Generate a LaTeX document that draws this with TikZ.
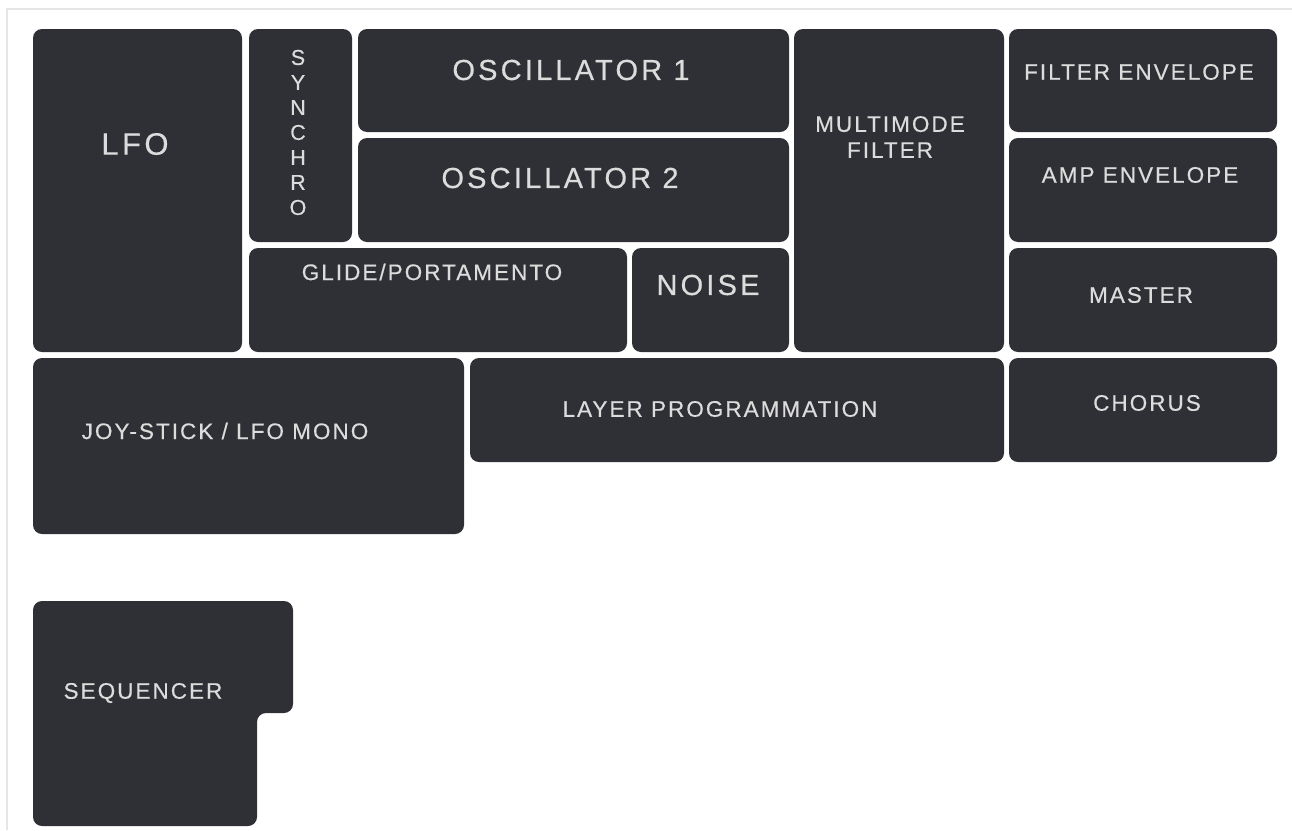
\documentclass[tikz,border=0pt]{standalone}
\usepackage{fontspec}
\usepackage{tikz}
\usetikzlibrary{positioning}
\newfontfamily\panelfont[LetterSpace=9, FakeBold=0.4]{Liberation Sans}
\newfontfamily\titlefont[LetterSpace=11, FakeBold=0.4]{Liberation Sans}
\definecolor{panelgray}{HTML}{2F3035}
\definecolor{labelgray}{HTML}{DCDCDC}
\definecolor{framegray}{HTML}{E6E6E6}

\begin{document}
\begin{tikzpicture}[x=1pt, y=-1pt,
  panel/.style={fill=panelgray, rounded corners=9pt},
  small/.style={text=labelgray, inner sep=0pt, font=\panelfont\fontsize{22.5}{26}\selectfont},
  big/.style={text=labelgray, inner sep=0pt, font=\titlefont\fontsize{29}{33}\selectfont},
  huge/.style={text=labelgray, inner sep=0pt, font=\titlefont\fontsize{31}{35}\selectfont}]
\useasboundingbox (0,0) rectangle (1292,830);
\draw[framegray, line width=1.5pt] (7,830) -- (7,9) -- (1292,9);

% panels, top block
\fill[panel] (33,29) rectangle (242,352);
\fill[panel] (249,29) rectangle (352,242);
\fill[panel] (358,29) rectangle (789,132);
\fill[panel] (358,138) rectangle (789,242);
\fill[panel] (249,248) rectangle (627,352);
\fill[panel] (632,248) rectangle (789,352);
\fill[panel] (794,29) rectangle (1004,352);
\fill[panel] (1009,29) rectangle (1277,132);
\fill[panel] (1009,138) rectangle (1277,242);
\fill[panel] (1009,248) rectangle (1277,352);
% panels, second row
\fill[panel] (33,358) rectangle (464,534);
\fill[panel] (470,358) rectangle (1004,462);
\fill[panel] (1009,358) rectangle (1277,462);
% sequencer with its notch
\fill[panel] (33,601) -- (293,601) -- (293,713) -- (257,713) -- (257,826) -- (33,826) -- cycle;

% labels
\node[huge] (lfo) at (135,144) {LFO};
\node[small, align=center, font=\panelfont\fontsize{21.5}{25}\selectfont] (synchro) at (298,132.5) {S\\Y\\N\\C\\H\\R\\O};
\node[big] (osc1) at (571,70) {OSCILLATOR 1};
\node[big] (osc2) at (560,178) {OSCILLATOR 2};
\node[small] (glide) at (432,272) {GLIDE/PORTAMENTO};
\node[big] (noise) at (708,285) {NOISE};
\node[small, align=center] (vcf) at (890,137) {MULTIMODE\\FILTER};
\node[small] (filtenv) at (1139,72) {FILTER ENVELOPE};
\node[small] (ampenv) at (1140,175) {AMP ENVELOPE};
\node[small] (master) at (1141,295) {MASTER};
\node[small] (joystick) at (225,431) {JOY-STICK / LFO MONO};
\node[small] (layer) at (720,409) {LAYER PROGRAMMATION};
\node[small] (chorus) at (1147,403) {CHORUS};
\node[small] (seq) at (143,693) {SEQUENCER};
\end{tikzpicture}
\end{document}
